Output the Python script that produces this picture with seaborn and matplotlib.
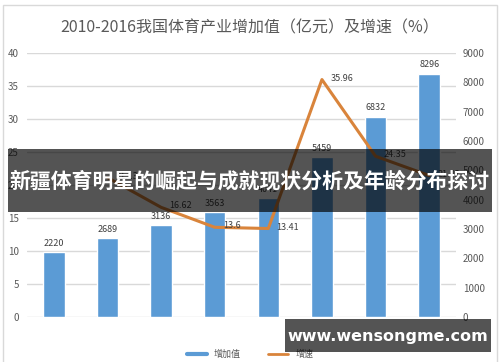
import numpy as np
import pandas as pd
import seaborn as sns
import matplotlib.pyplot as plt
from matplotlib.patches import Rectangle
from matplotlib.lines import Line2D

# Data
years = ['2010', '2011', '2012', '2013', '2014', '2015', '2016', '2017']
added_value = [2220, 2689, 3136, 3563, 4041, 5459, 6832, 8296]  # 亿元
growth_years = ['2011', '2012', '2013', '2014', '2015', '2016', '2017']
growth = [21.13, 16.62, 13.6, 13.41, 35.96, 24.35, 21.43]  # %

title = '2010-2016我国体育产业增加值（亿元）及增速（%）'
banner = '新疆体育明星的崛起与成就现状分析及年龄分布探讨'
watermark = 'www.wensongme.com'
legend_labels = ['增加值', '增速']

bar_color = '#5B9BD5'
line_color = '#D9843B'
text_gray = '#595959'

sns.set_theme(style='white')
plt.rcParams['font.family'] = ['Noto Sans CJK SC', 'DejaVu Sans']

df_bar = pd.DataFrame({'year': years, 'value': added_value})
df_line = pd.DataFrame({'pos': [years.index(y) for y in growth_years], 'growth': growth})

fig = plt.figure(figsize=(5, 3.62), dpi=100)
fig.patch.set_facecolor('white')
ax = fig.add_axes([0.054, 0.124, 0.858, 0.73])

# left axis: grid + ticks (growth %)
ax.set_ylim(0, 40)
ax.set_yticks(np.arange(0, 41, 5))
ax.grid(axis='y', color='#d9d9d9', linewidth=1)
ax.set_axisbelow(True)

# right axis: bars (added value)
ax2 = ax.twinx()
sns.barplot(data=df_bar, x='year', y='value', ax=ax2, color=bar_color,
            width=0.4, saturation=1)
ax2.set_ylim(0, 9000)
ax2.set_yticks(np.arange(0, 9001, 1000))
ax2.set_xlim(-0.5, len(years) - 0.5)
for i, v in enumerate(added_value):
    ax2.annotate(str(v), (i, v), xytext=(0, 3), textcoords='offset points',
                 ha='center', va='bottom', fontsize=6.5, color='#404040')

# growth line on the left scale, drawn above the bars
ax3 = ax.twinx()
sns.lineplot(data=df_line, x='pos', y='growth', ax=ax3, color=line_color,
             linewidth=2.2)
ax3.set_ylim(0, 40)
ax3.set_xlim(-0.5, len(years) - 0.5)
ax3.axis('off')
for p, g in zip(df_line['pos'], growth):
    ax3.annotate(f'{g:g}', (p, g), xytext=(6, 1), textcoords='offset points',
                 ha='left', va='center', fontsize=6.5, color='#404040')

for a in (ax, ax2):
    for s in a.spines.values():
        s.set_visible(False)
    a.set_xlabel('')
    a.set_ylabel('')
ax.tick_params(axis='y', length=0, pad=6, labelsize=7, labelcolor=text_gray)
ax2.tick_params(axis='y', length=0, pad=5, labelsize=7, labelcolor=text_gray)
ax2.tick_params(axis='x', length=0, pad=8, labelsize=7, labelcolor=text_gray)
ax.set_xticks([])

fig.text(0.5, 0.922, title, ha='center', va='center', fontsize=11.5, color=text_gray)

# legend at the bottom
handles = [Line2D([0], [0], color=bar_color, lw=3),
           Line2D([0], [0], color=line_color, lw=2)]
fig.legend(handles, legend_labels, loc='center', bbox_to_anchor=(0.5, 0.022),
           ncol=2, frameon=False, fontsize=6.5, labelcolor=text_gray,
           handlelength=2.2, columnspacing=3, borderpad=0.1)

# chart frame
fig.add_artist(Rectangle((0.006, -0.05), 0.988, 1.036, transform=fig.transFigure,
                         fill=False, edgecolor='#d9d9d9', linewidth=1))

# overlay banner and watermark
fig.add_artist(Rectangle((0.016, 1 - 212 / 362), 0.968, 63 / 362, transform=fig.transFigure,
                         facecolor='black', alpha=0.67, edgecolor='none', zorder=10))
fig.text(0.5, 1 - 181 / 362, banner, ha='center', va='center', fontsize=15,
         fontweight='bold', color='white', zorder=11)
fig.add_artist(Rectangle((285 / 500, 1 - 352 / 362), 206 / 500, 33 / 362, transform=fig.transFigure,
                         facecolor='black', alpha=0.67, edgecolor='none', zorder=10))
fig.text(388 / 500, 1 - 336 / 362, watermark, ha='center', va='center', fontsize=11.5,
         fontweight='bold', color='white', family='DejaVu Sans', zorder=11)

fig.savefig('out.png', dpi=100)
